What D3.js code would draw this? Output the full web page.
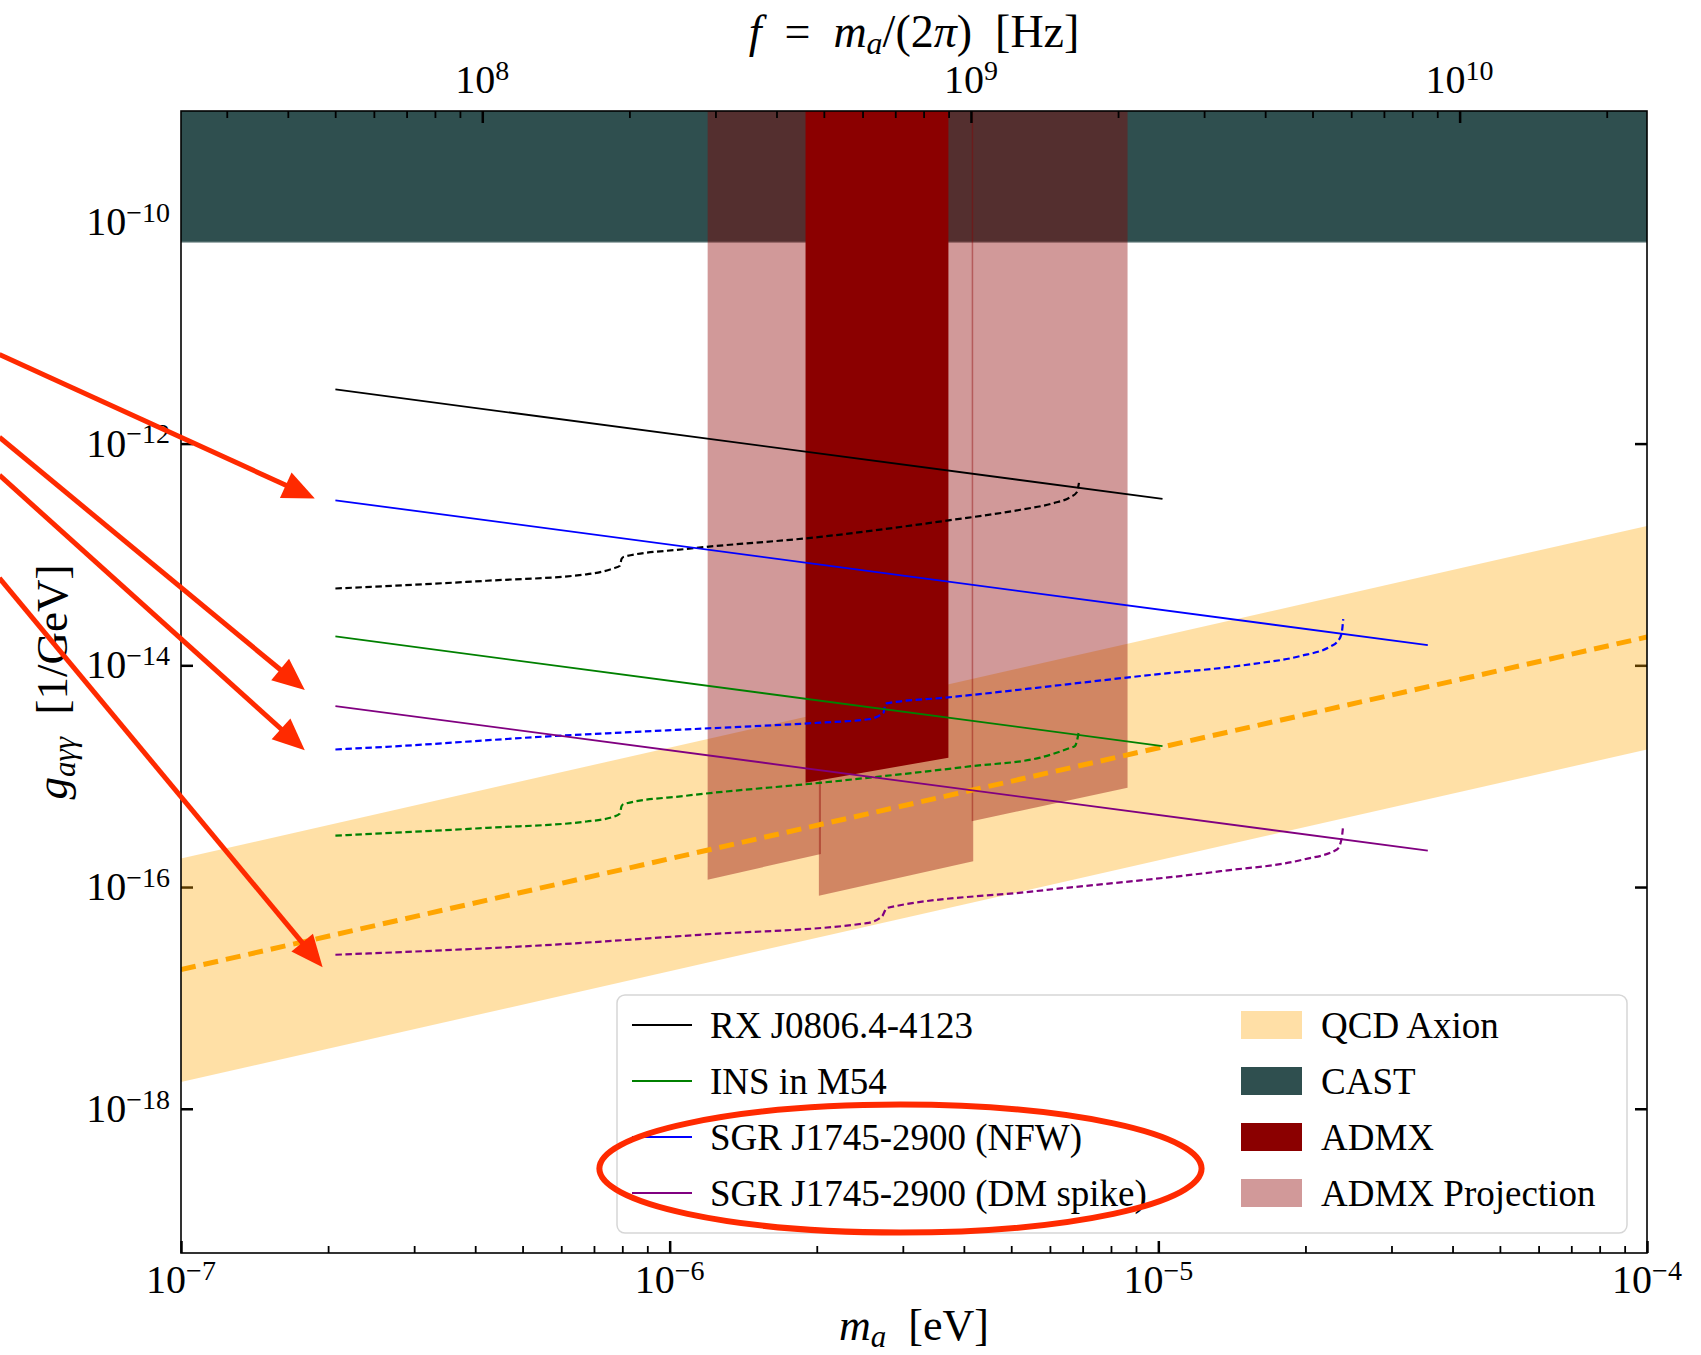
<!DOCTYPE html>
<meta charset="utf-8">
<script src="https://cdn.jsdelivr.net/npm/d3@7"></script>
<style>
body {
  margin: 0;
  background-color: #fff;
}
svg {
  font-family: "Liberation Serif", "DejaVu Serif", serif;
}
.tick line {
  stroke: #000;
}
.major line {
  stroke-width: 2.5px;
}
.minor line {
  stroke-width: 1.8px;
}
.domain {
  display: none;
}
.limit {
  fill: none;
  stroke-width: 1.8px;
}
.reach {
  fill: none;
  stroke-width: 2.2px;
  stroke-dasharray: 6.5, 3.5;
}
</style>
<body>
  <div id="chart"></div>
</body>
<script>
// axes
var massDomain = [1e-7, 1e-4];
var couplingDomain = [1e-9, 5e-20];
var massTicks = [1e-7, 1e-6, 1e-5, 1e-4];
var freqTicks = [1e8, 1e9, 1e10];
var couplingTicks = [1e-10, 1e-12, 1e-14, 1e-16, 1e-18];
var eVtoHz = 2.418e14;

// QCD axion band and model line
var qcdMass = [1e-7, 1e-4];
var qcdUpper = [1.81e-16, 1.81e-13];
var qcdLower = [1.74e-18, 1.74e-15];
var qcdModel = [1.8e-17, 1.8e-14];

// experiments
var castLimit = 6.6e-11;
var admxMass = [1.897e-6, 3.719e-6];
var admxBottom = [8.71e-16, 1.468e-15];
var projMass = [[1.196e-6, 2.04e-6], [2.02e-6, 4.18e-6], [4.15e-6, 8.65e-6]];
var projBottom = [[1.166e-16, 1.986e-16], [8.35e-17, 1.708e-16], [3.93e-16, 7.85e-16]];

// neutron star limits (solid) and reach (dashed), [mass eV, g 1/GeV]
var rxSolid = [[2.07e-7, 3.08e-12], [1.02e-5, 3.17e-13]];
var insSolid = [[2.07e-7, 1.82e-14], [1.02e-5, 1.87e-15]];
var nfwSolid = [[2.07e-7, 3.08e-13], [3.56e-5, 1.52e-14]];
var spikeSolid = [[2.07e-7, 4.29e-15], [3.56e-5, 2.13e-16]];

var rxDashed = [[2.07e-7, 4.93e-14], [4.22e-7, 5.79e-14], [6.76e-7, 6.62e-14], [7.67e-7, 7.49e-14],
  [7.91e-7, 7.91e-14], [7.97e-7, 9.09e-14], [8.06e-7, 9.54e-14], [1.08e-6, 1.12e-13], [2.03e-6, 1.44e-13],
  [3.69e-6, 2.02e-13], [5.22e-6, 2.53e-13], [6.10e-6, 2.90e-13], [6.60e-6, 3.28e-13], [6.81e-6, 3.64e-13],
  [6.88e-6, 4.42e-13]];
var insDashed = [[2.07e-7, 2.91e-16], [4.22e-7, 3.42e-16], [6.76e-7, 3.90e-16], [7.67e-7, 4.30e-16],
  [7.91e-7, 4.60e-16], [7.97e-7, 5.36e-16], [8.06e-7, 5.62e-16], [1.08e-6, 6.66e-16], [2.03e-6, 8.71e-16],
  [4.14e-6, 1.23e-15], [5.73e-6, 1.47e-15], [6.60e-6, 1.80e-15], [6.75e-6, 1.87e-15], [6.81e-6, 2.05e-15],
  [6.88e-6, 2.59e-15]];
var nfwDashed = [[2.07e-7, 1.74e-15], [2.63e-7, 1.84e-15], [5.78e-7, 2.30e-15], [1.08e-6, 2.64e-15],
  [2.03e-6, 3.04e-15], [2.55e-6, 3.26e-15], [2.68e-6, 3.50e-15], [2.74e-6, 3.74e-15], [2.76e-6, 4.39e-15],
  [2.78e-6, 4.54e-15], [3.65e-6, 5.10e-15], [9.63e-6, 8.18e-15], [1.54e-5, 1.02e-14], [1.95e-5, 1.21e-14],
  [2.25e-5, 1.48e-14], [2.32e-5, 1.62e-14], [2.37e-5, 1.91e-14], [2.39e-5, 2.61e-14]];
var spikeDashed = [[2.07e-7, 2.45e-17], [5.78e-7, 3.02e-17], [1.15e-6, 3.71e-17], [2.53e-6, 4.72e-17],
  [2.72e-6, 5.44e-17], [2.76e-6, 6.16e-17], [2.78e-6, 6.47e-17], [5.55e-6, 9.14e-17], [1.34e-5, 1.39e-16],
  [1.98e-5, 1.77e-16], [2.32e-5, 2.18e-16], [2.37e-5, 2.68e-16], [2.39e-5, 3.66e-16]];

var limitNames = ["RX J0806.4-4123", "INS in M54", "SGR J1745-2900 (NFW)", "SGR J1745-2900 (DM spike)"];
var limitColors = ["black", "green", "blue", "purple"];
var regionNames = ["QCD Axion", "CAST", "ADMX", "ADMX Projection"];
var regionColors = ["#ffdfa6", "#2f4f4f", "#8b0000", "#d19999"];

// red annotations: arrow tails/tips and ellipse bounds, in data units
var arrowTails = [[4.25e-8, 6.37e-12], [4.25e-8, 1.14e-12], [4.25e-8, 5.19e-13], [4.25e-8, 6.12e-14]];
var arrowTips = [[1.879e-7, 3.2e-13], [1.792e-7, 6.0e-15], [1.792e-7, 1.71e-15], [1.949e-7, 1.89e-17]];
var circleMass = [7.18e-7, 1.226e-5];
var circleCoupling = [1.09e-18, 7.64e-20];

var margin = {top: 111, right: 54, bottom: 102, left: 181},
    width = 1701 - margin.left - margin.right,
    height = 1355 - margin.top - margin.bottom;

var svg = d3.select("#chart").append("svg")
    .attr("width", 1701)
    .attr("height", 1355);

svg.append("rect").attr("width", 1701).attr("height", 1355).attr("fill", "#fff");

var g = svg.append("g")
    .attr("transform", "translate(" + margin.left + "," + margin.top + ")");

var x = d3.scaleLog().domain(massDomain).range([0, width]);
var y = d3.scaleLog().domain(couplingDomain).range([0, height]);
var xf = d3.scaleLog().domain(massDomain.map(function(m) { return m * eVtoHz; })).range([0, width]);

function isPow10(v) {
  var l = Math.log10(v);
  return Math.abs(l - Math.round(l)) < 1e-6;
}
var massMinor = x.ticks().filter(function(v) { return !isPow10(v); });
var freqMinor = xf.ticks().filter(function(v) { return !isPow10(v); });

g.append("defs").append("clipPath").attr("id", "plot")
  .append("rect").attr("width", width).attr("height", height);

// ticks under the fills
g.append("g").attr("class", "major")
    .attr("transform", "translate(0," + height + ")")
    .call(d3.axisBottom(x).tickValues(massTicks).tickSize(-12).tickFormat(""));
g.append("g").attr("class", "minor")
    .attr("transform", "translate(0," + height + ")")
    .call(d3.axisBottom(x).tickValues(massMinor).tickSize(-7).tickFormat(""));
g.append("g").attr("class", "major")
    .call(d3.axisLeft(y).tickValues(couplingTicks).tickSize(-12).tickFormat(""));
g.append("g").attr("class", "major")
    .attr("transform", "translate(" + width + ",0)")
    .call(d3.axisRight(y).tickValues(couplingTicks).tickSize(-12).tickFormat(""));

var plot = g.append("g").attr("clip-path", "url(#plot)");

// QCD band
var band = qcdMass.map(function(m, i) { return {m: m, lo: qcdLower[i], hi: qcdUpper[i]}; });
plot.append("path")
    .datum(band)
    .attr("fill", "orange")
    .attr("fill-opacity", 0.35)
    .attr("d", d3.area()
      .x(function(d) { return x(d.m); })
      .y0(function(d) { return y(d.lo); })
      .y1(function(d) { return y(d.hi); }));

// CAST
plot.append("path")
    .datum(massDomain)
    .attr("fill", "#2f4f4f")
    .attr("d", d3.area()
      .x(function(d) { return x(d); })
      .y0(function(d) { return y(castLimit); })
      .y1(function(d) { return y(couplingDomain[0]); }));
plot.append("line")
    .attr("x1", x(massDomain[0])).attr("x2", x(massDomain[1]))
    .attr("y1", y(castLimit)).attr("y2", y(castLimit))
    .attr("stroke", "#2f4f4f").attr("stroke-opacity", 0.45).attr("stroke-width", 2.5);

// ADMX projection
projMass.forEach(function(ms, i) {
  var seg = ms.map(function(m, j) { return {m: m, lo: projBottom[i][j]}; });
  plot.append("path")
      .datum(seg)
      .attr("fill", "darkred")
      .attr("fill-opacity", 0.4)
      .attr("d", d3.area()
        .x(function(d) { return x(d.m); })
        .y0(function(d) { return y(d.lo); })
        .y1(function(d) { return y(couplingDomain[0]); }));
});

// ADMX
var admx = admxMass.map(function(m, i) { return {m: m, lo: admxBottom[i]}; });
plot.append("path")
    .datum(admx)
    .attr("fill", "darkred")
    .attr("d", d3.area()
      .x(function(d) { return x(d.m); })
      .y0(function(d) { return y(d.lo); })
      .y1(function(d) { return y(couplingDomain[0]); }));

// QCD model line
plot.append("path")
    .datum(qcdMass.map(function(m, i) { return [m, qcdModel[i]]; }))
    .attr("fill", "none")
    .attr("stroke", "orange")
    .attr("stroke-width", 5)
    .attr("stroke-dasharray", "15,8")
    .attr("d", d3.line().x(function(d) { return x(d[0]); }).y(function(d) { return y(d[1]); }));

// limits
var line = d3.line()
    .x(function(d) { return x(d[0]); })
    .y(function(d) { return y(d[1]); })
    .curve(d3.curveMonotoneX);

[rxDashed, insDashed, nfwDashed, spikeDashed].forEach(function(d, i) {
  plot.append("path").datum(d).attr("class", "reach")
      .style("stroke", limitColors[i]).attr("d", line);
});
[rxSolid, insSolid, nfwSolid, spikeSolid].forEach(function(d, i) {
  plot.append("path").datum(d).attr("class", "limit")
      .style("stroke", limitColors[i]).attr("d", line);
});

// top frequency axis, above the fills
g.append("g").attr("class", "major")
    .call(d3.axisTop(xf).tickValues(freqTicks).tickSize(-12).tickFormat(""));
g.append("g").attr("class", "minor")
    .call(d3.axisTop(xf).tickValues(freqMinor).tickSize(-7).tickFormat(""));

g.append("rect")
    .attr("width", width)
    .attr("height", height)
    .attr("fill", "none")
    .attr("stroke", "#000")
    .attr("stroke-width", 1.6);

// tick labels
function powLabel(sel, v, fs) {
  var e = Math.round(Math.log10(v));
  sel.append("tspan").text("10");
  sel.append("tspan")
      .attr("dy", -0.33 * fs)
      .style("font-size", (0.7 * fs) + "px")
      .text(e < 0 ? "\u2212" + (-e) : e);
}

g.selectAll(".ylab")
  .data(couplingTicks)
  .enter().append("text")
  .attr("x", -11)
  .attr("y", function(d) { return y(d) + 13; })
  .attr("text-anchor", "end")
  .style("font-size", "40px")
  .each(function(d) { powLabel(d3.select(this), d, 40); });

g.selectAll(".xlab")
  .data(massTicks)
  .enter().append("text")
  .attr("x", function(d) { return x(d); })
  .attr("y", height + 40)
  .attr("text-anchor", "middle")
  .style("font-size", "40px")
  .each(function(d) { powLabel(d3.select(this), d, 40); });

g.selectAll(".flab")
  .data(freqTicks)
  .enter().append("text")
  .attr("x", function(d) { return xf(d); })
  .attr("y", -18)
  .attr("text-anchor", "middle")
  .style("font-size", "40px")
  .each(function(d) { powLabel(d3.select(this), d, 40); });

// axis titles
var xt = g.append("text")
    .attr("x", width / 2)
    .attr("y", height + 87)
    .attr("text-anchor", "middle")
    .style("font-size", "44px");
xt.append("tspan").style("font-style", "italic").text("m");
xt.append("tspan").style("font-style", "italic").style("font-size", "31px").attr("dy", 7).text("a");
xt.append("tspan").attr("dy", -7).text("\u2002[eV]");

var ft = g.append("text")
    .attr("x", width / 2)
    .attr("y", -64)
    .attr("text-anchor", "middle")
    .style("font-size", "46px");
ft.append("tspan").style("font-style", "italic").text("f");
ft.append("tspan").text("\u2002=\u2002");
ft.append("tspan").style("font-style", "italic").text("m");
ft.append("tspan").style("font-style", "italic").style("font-size", "32px").attr("dy", 7).text("a");
ft.append("tspan").attr("dy", -7).text("/(2");
ft.append("tspan").style("font-style", "italic").text("\u03c0");
ft.append("tspan").text(")\u2002[Hz]");

var yt = g.append("text")
    .attr("transform", "translate(-114," + (height / 2) + ") rotate(-90)")
    .attr("text-anchor", "middle")
    .style("font-size", "45px");
yt.append("tspan").style("font-style", "italic").text("g");
yt.append("tspan").style("font-style", "italic").style("font-size", "31px").attr("dy", 8).text("a\u03b3\u03b3");
yt.append("tspan").attr("dy", -8).text("\u2002[1/GeV]");

// legend
var legend = g.append("g");
legend.append("rect")
    .attr("x", 436).attr("y", 884)
    .attr("width", 1010).attr("height", 238)
    .attr("rx", 8)
    .attr("fill", "#fff").attr("fill-opacity", 0.8)
    .attr("stroke", "#d6d6d6").attr("stroke-width", 1.5);

limitNames.forEach(function(name, i) {
  var ry = 914 + i * 56;
  legend.append("line")
      .attr("x1", 451).attr("x2", 511)
      .attr("y1", ry).attr("y2", ry)
      .attr("stroke", limitColors[i]).attr("stroke-width", 1.8);
  legend.append("text")
      .attr("x", 529).attr("y", ry + 13)
      .style("font-size", "37px")
      .text(name);
});
regionNames.forEach(function(name, i) {
  var ry = 914 + i * 56;
  legend.append("rect")
      .attr("x", 1060).attr("y", ry - 14)
      .attr("width", 61).attr("height", 28)
      .attr("fill", regionColors[i]);
  legend.append("text")
      .attr("x", 1140).attr("y", ry + 13)
      .style("font-size", "37px")
      .text(name);
});

// red annotations
var red = "#ff2a00";
arrowTips.forEach(function(tip, i) {
  var x0 = x(arrowTails[i][0]), y0 = y(arrowTails[i][1]);
  var x1 = x(tip[0]), y1 = y(tip[1]);
  var dx = x1 - x0, dy = y1 - y0, len = Math.sqrt(dx * dx + dy * dy);
  var ux = dx / len, uy = dy / len;
  var hl = 32, hw = 14;
  var bx = x1 - ux * hl, by = y1 - uy * hl;
  g.append("line")
      .attr("x1", x0).attr("y1", y0)
      .attr("x2", bx + ux * 2).attr("y2", by + uy * 2)
      .attr("stroke", red).attr("stroke-width", 5);
  g.append("path")
      .attr("fill", red)
      .attr("d", "M" + x1 + "," + y1 +
        "L" + (bx - uy * hw) + "," + (by + ux * hw) +
        "L" + (bx + uy * hw) + "," + (by - ux * hw) + "Z");
});

g.append("ellipse")
    .attr("cx", (x(circleMass[0]) + x(circleMass[1])) / 2)
    .attr("cy", (y(circleCoupling[0]) + y(circleCoupling[1])) / 2)
    .attr("rx", (x(circleMass[1]) - x(circleMass[0])) / 2)
    .attr("ry", (y(circleCoupling[1]) - y(circleCoupling[0])) / 2)
    .attr("fill", "none")
    .attr("stroke", red)
    .attr("stroke-width", 6);
</script>
